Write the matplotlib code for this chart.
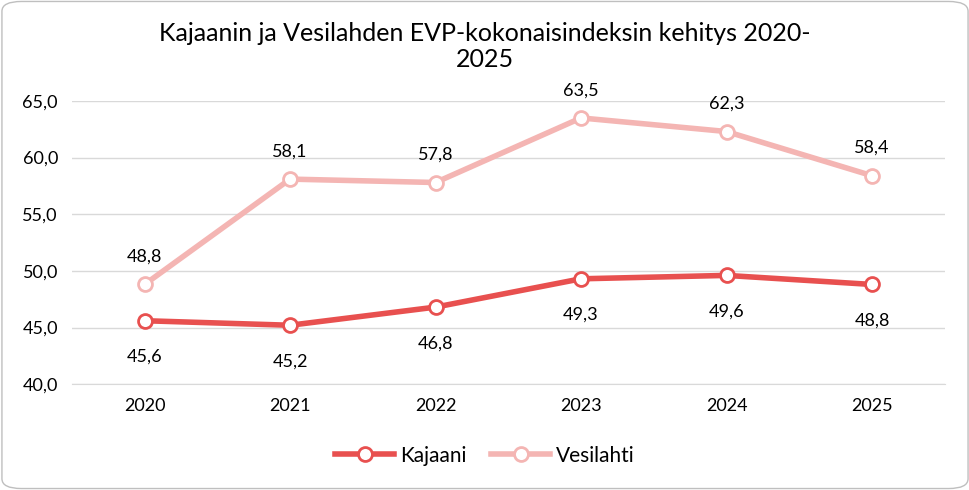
import matplotlib
matplotlib.use("Agg")
import matplotlib.pyplot as plt
from matplotlib.patches import FancyBboxPatch

years = ["2020", "2021", "2022", "2023", "2024", "2025"]
kajaani = [45.6, 45.2, 46.8, 49.3, 49.6, 48.8]
vesilahti = [48.8, 58.1, 57.8, 63.5, 62.3, 58.4]

plt.rcParams["font.family"] = ["Lato", "DejaVu Sans"]

fig = plt.figure(figsize=(9.7, 4.9), dpi=100)
fig.patches.append(FancyBboxPatch((0.002, 0.003), 0.996, 0.994,
                                  boxstyle="round,pad=0,rounding_size=0.02",
                                  transform=fig.transFigure, fc="white",
                                  ec="#bfbfbf", lw=1, zorder=-10))
ax = fig.add_axes([0.074, 0.216, 0.9, 0.578])
ax.set_facecolor("none")

x = list(range(len(years)))
ax.plot(x, kajaani, color="#E8504F", lw=4, marker="o", ms=10,
        mfc="white", mec="#E8504F", mew=2, label="Kajaani", zorder=3)
ax.plot(x, vesilahti, color="#F4B5B3", lw=4, marker="o", ms=10,
        mfc="white", mec="#F4B5B3", mew=2, label="Vesilahti", zorder=3)

for i, v in enumerate(kajaani):
    ax.annotate(f"{v:.1f}".replace(".", ","), (i, v), xytext=(0, -26),
                textcoords="offset points", ha="center", va="center", fontsize=13)
for i, v in enumerate(vesilahti):
    ax.annotate(f"{v:.1f}".replace(".", ","), (i, v), xytext=(0, 20),
                textcoords="offset points", ha="center", va="center", fontsize=13)

ax.set_xlim(-0.5, 5.5)
ax.set_ylim(40, 65)
ax.set_yticks([40, 45, 50, 55, 60, 65])
ax.set_yticklabels([f"{t:.1f}".replace(".", ",") for t in [40, 45, 50, 55, 60, 65]])
ax.set_xticks(x)
ax.set_xticklabels(years)
ax.tick_params(labelsize=13, length=0, pad=10)
ax.grid(axis="y", color="#d9d9d9", lw=1)
ax.set_axisbelow(True)
for s in ["top", "right", "left"]:
    ax.spines[s].set_visible(False)
ax.spines["bottom"].set_color("#d9d9d9")

fig.text(0.5, 0.905, "Kajaanin ja Vesilahden EVP-kokonaisindeksin kehitys 2020-\n2025",
         ha="center", va="center", fontsize=18, linespacing=1.15)
fig.legend(loc="center", bbox_to_anchor=(0.5, 0.07), ncol=2, frameon=False,
           fontsize=15, handlelength=2.8, columnspacing=1.2, handletextpad=0.3)

fig.savefig("out.png")
